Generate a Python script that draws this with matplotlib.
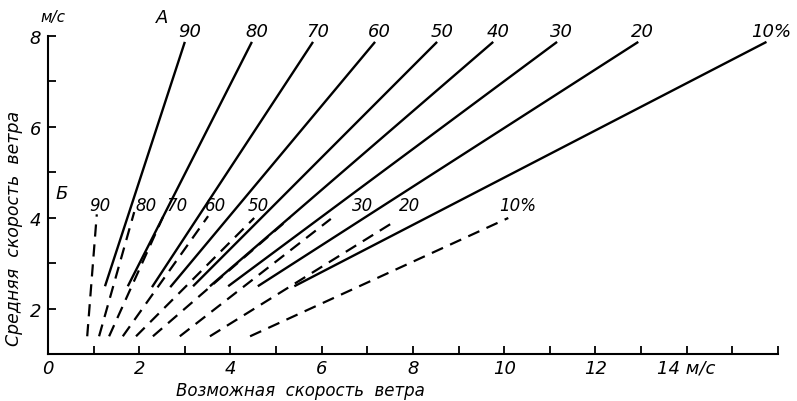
import numpy as np
import matplotlib
matplotlib.use('Agg')
import matplotlib.pyplot as plt

# probability levels (%)
levels = ['90', '80', '70', '60', '50', '40', '30', '20', '10%']

# curves A (solid): possible wind speed at start / end
solid_x0 = [1.25, 1.75, 2.28, 2.68, 3.18, 3.55, 3.95, 4.60, 5.40]
solid_x1 = [3.00, 4.47, 5.81, 7.17, 8.53, 9.76, 11.16, 12.94, 15.75]
solid_y0 = [2.5, 2.5, 2.48, 2.48, 2.5, 2.5, 2.5, 2.5, 2.5]
solid_y1 = [7.87, 7.87, 7.87, 7.87, 7.87, 7.87, 7.87, 7.87, 7.87]

# curves B (dashed)
dashed_x0 = [0.86, 1.12, 1.34, 1.64, 1.93, 2.30, 2.89, 3.55, 4.43]
dashed_x1 = [1.07, 1.89, 2.52, 3.51, 4.52, 5.30, 6.20, 7.61, 10.09]
dashed_y0 = [1.4, 1.4, 1.4, 1.4, 1.4, 1.4, 1.4, 1.4, 1.4]
dashed_y1 = [4.08, 4.13, 4.02, 4.04, 4.0, 4.0, 3.98, 3.93, 4.0]

x_ticks = np.arange(0, 17, 1)
x_labels = ['0', '', '2', '', '4', '', '6', '', '8', '', '10', '', '12', '', '14 м/с', '', '']
y_ticks = np.arange(1, 9, 1)
y_labels = ['', '2', '', '4', '', '6', '', '8']

plt.rcParams['font.family'] = ['DejaVu Sans']
plt.rcParams['font.style'] = 'italic'

fig = plt.figure(figsize=(7.97, 4.02), dpi=100)
ax = fig.add_axes([0.0602, 0.1157, 0.976 - 0.0602, 0.908 - 0.1157])

for i in range(len(levels)):
    ax.plot([solid_x0[i], solid_x1[i]], [solid_y0[i], solid_y1[i]], color='black', lw=1.7,
            solid_capstyle='butt')
    ax.plot([dashed_x0[i], dashed_x1[i]], [dashed_y0[i], dashed_y1[i]], color='black', lw=1.6,
            dashes=(5.5, 3.5), dash_capstyle='butt')

# labels of solid curves
for i in range(len(levels)):
    ax.text(solid_x1[i] + 0.1, 8.1, levels[i], fontsize=13, ha='center', va='center',
            style='italic', clip_on=False)
ax.text(2.5, 8.42, 'А', fontsize=13, ha='center', va='center', style='italic', clip_on=False)

# labels of dashed curves (40 not labelled)
dashed_dx = [0.06, 0.26, 0.31, 0.17, 0.08, None, 0.7, 0.31, 0.21]
for i in range(len(levels)):
    if dashed_dx[i] is None:
        continue
    ax.text(dashed_x1[i] + dashed_dx[i], 4.28, levels[i], fontsize=12, ha='center', va='center',
            style='italic')
ax.text(0.31, 4.55, 'Б', fontsize=13, ha='center', va='center', style='italic')

ax.set_xlim(0, 16)
ax.set_ylim(1, 8)
ax.spines['top'].set_visible(False)
ax.spines['right'].set_visible(False)
ax.spines['left'].set_linewidth(1.5)
ax.spines['bottom'].set_linewidth(1.5)
ax.set_xticks(x_ticks)
ax.set_xticklabels(x_labels, fontsize=13, style='italic')
ax.set_yticks(y_ticks)
ax.set_yticklabels(y_labels, fontsize=13, style='italic')
ax.tick_params(direction='in', length=6, width=1.3, pad=5)
ax.tick_params(axis='x', pad=3)

ax.text(0.1, 8.42, 'м/с', fontsize=11, ha='center', va='center', style='italic', clip_on=False)

# axis titles placed in figure coords
fig.text(300 / 797, 1 - 391 / 402, 'Возможная  скорость  ветра', fontsize=12, style='italic',
         ha='center', va='center')
fig.text(14 / 797, 1 - 228 / 402, 'Средняя  скорость  ветра', fontsize=12.5, style='italic',
         ha='center', va='center', rotation=90)

plt.savefig('out.png', dpi=100)
